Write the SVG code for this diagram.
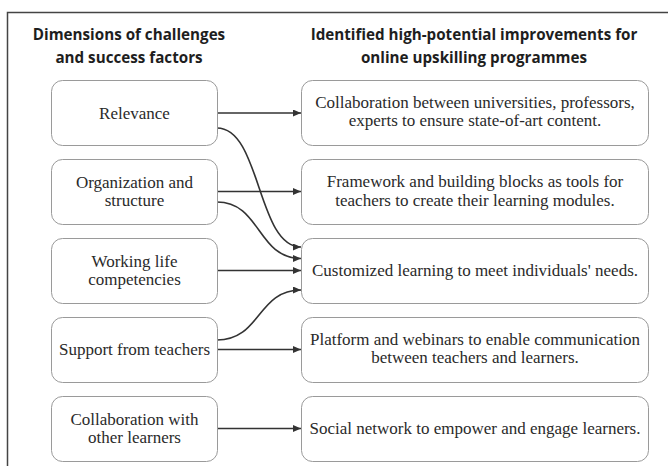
<svg xmlns="http://www.w3.org/2000/svg" width="668" height="466" viewBox="0 0 668 466">
<style>
.frame{fill:none;stroke:#444;stroke-width:1.5}
.box{fill:#fff;stroke:#9a9a9a;stroke-width:1}
.hd{font-family:"Open Sans","Noto Sans",sans-serif;font-weight:700;font-size:15.2px;fill:#1e1e1e;text-anchor:middle}
.t{font-family:"Liberation Serif","Times New Roman",serif;font-size:17px;fill:#2a2a2a;text-anchor:middle}
.c{fill:none;stroke:#333;stroke-width:1.6;marker-end:url(#ah)}
</style>
<defs>
<marker id="ah" viewBox="0 0 8 7" refX="8" refY="3.5" markerWidth="8" markerHeight="7" markerUnits="userSpaceOnUse" orient="auto">
<path d="M0,0 L8,3.5 L0,7 z" fill="#333"/>
</marker>
</defs>
<rect x="0" y="0" width="668" height="466" fill="#fff"/>
<path class="frame" d="M7.5,480 L7.5,12.5 L680,12.5"/>
<g id="headers">
<text class="hd" x="129" y="39.5">Dimensions of challenges</text>
<text class="hd" x="129" y="62.5">and success factors</text>
<text class="hd" x="474" y="39.5">Identified high-potential improvements for</text>
<text class="hd" x="474" y="62.5">online upskilling programmes</text>
</g>
<g id="connectors">
<path class="c" d="M217,113 L301,113"/>
<path class="c" d="M217,128 C261,128 257,247 301,247"/>
<path class="c" d="M217,191.5 L301,191.5"/>
<path class="c" d="M217,202 C261,202 257,258.5 301,258.5"/>
<path class="c" d="M217,270.5 L301,270.5"/>
<path class="c" d="M217,340 C261,340 257,290 301,290"/>
<path class="c" d="M217,349.5 L301,349.5"/>
<path class="c" d="M217,428.5 L301,428.5"/>
</g>
<g id="l1"><rect class="box" x="51.5" y="80.5" width="166" height="65" rx="11"/><text class="t" x="134.5" y="118.5">Relevance</text></g>
<g id="l2"><rect class="box" x="51.5" y="159.5" width="166" height="65" rx="11"/><text class="t" x="134.5" y="188">Organization and</text><text class="t" x="134.5" y="206">structure</text></g>
<g id="l3"><rect class="box" x="51.5" y="238.5" width="166" height="65" rx="11"/><text class="t" x="134.5" y="267">Working life</text><text class="t" x="134.5" y="285">competencies</text></g>
<g id="l4"><rect class="box" x="51.5" y="317.5" width="166" height="65" rx="11"/><text class="t" x="134.5" y="355">Support from teachers</text></g>
<g id="l5"><rect class="box" x="51.5" y="396.5" width="166" height="65" rx="11"/><text class="t" x="134.5" y="425">Collaboration with</text><text class="t" x="134.5" y="443">other learners</text></g>
<g id="r1"><rect class="box" x="301.5" y="80.5" width="347" height="65" rx="11"/><text class="t" x="475" y="107.5">Collaboration between universities, professors,</text><text class="t" x="475" y="126">experts to ensure state-of-art content.</text></g>
<g id="r2"><rect class="box" x="301.5" y="159.5" width="347" height="65" rx="11"/><text class="t" x="475" y="187">Framework and building blocks as tools for</text><text class="t" x="475" y="205.5">teachers to create their learning modules.</text></g>
<g id="r3"><rect class="box" x="301.5" y="238.5" width="347" height="65" rx="11"/><text class="t" x="475" y="276">Customized learning to meet individuals' needs.</text></g>
<g id="r4"><rect class="box" x="301.5" y="317.5" width="347" height="65" rx="11"/><text class="t" x="475" y="344.5">Platform and webinars to enable communication</text><text class="t" x="475" y="363">between teachers and learners.</text></g>
<g id="r5"><rect class="box" x="301.5" y="396.5" width="347" height="65" rx="11"/><text class="t" x="475" y="434">Social network to empower and engage learners.</text></g>
</svg>
